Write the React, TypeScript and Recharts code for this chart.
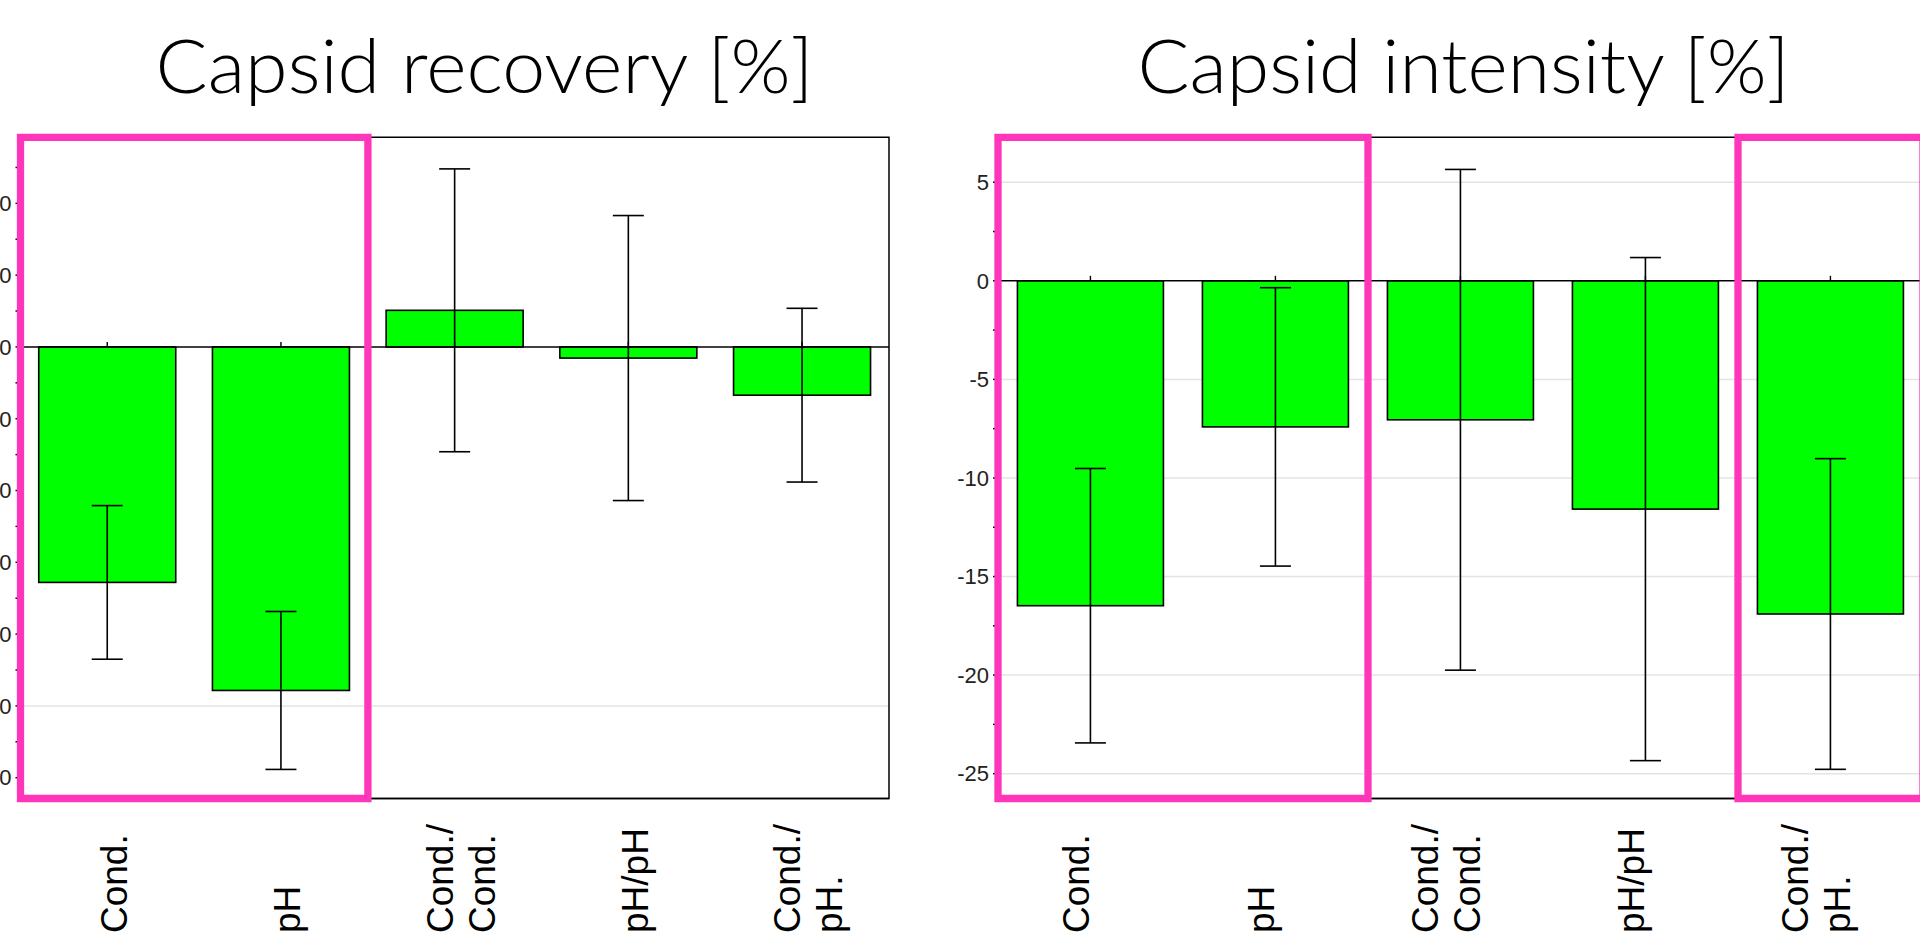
import React from 'react';
import {
  BarChart,
  Bar,
  XAxis,
  YAxis,
  CartesianGrid,
  ErrorBar,
  ReferenceLine,
  ReferenceArea,
} from 'recharts';

// ---------- data ----------
const categories = ['Cond.', 'pH', 'Cond./\nCond.', 'pH/pH', 'Cond./\npH.'];

const recoveryMean = [-32.8, -47.85, 5.1, -1.55, -6.72];
const recoveryErr = [10.7, 11.0, 19.7, 19.85, 12.1];

const intensityMean = [-16.48, -7.41, -7.05, -11.58, -16.9];
const intensityErr = [6.96, 7.06, 12.7, 12.76, 7.88];

const recoveryTicks = [25, 20, 15, 10, 5, 0, -5, -10, -15, -20, -25, -30, -35, -40, -45, -50, -55, -60];
const recoveryTickLabels = [20, 10, 0, -10, -20, -30, -40, -50, -60];
const recoveryGrid = [-50];
const recoveryDomain = [-62.9, 29.2];

const intensityTicks = [5, 2.5, 0, -2.5, -5, -7.5, -10, -12.5, -15, -17.5, -20, -22.5, -25];
const intensityTickLabels = [5, 0, -5, -10, -15, -20, -25];
const intensityGrid = [5, -5, -10, -15, -20, -25];
const intensityDomain = [-26.26, 7.28];

const recoveryHighlights = [['Cond.', 'pH']];
const intensityHighlights = [
  ['Cond.', 'pH'],
  ['Cond./\npH.', 'Cond./\npH.'],
];

const recoveryData = categories.map((c, i) => ({ name: c, value: recoveryMean[i], err: recoveryErr[i] }));
const intensityData = categories.map((c, i) => ({ name: c, value: intensityMean[i], err: intensityErr[i] }));

// ---------- styles ----------
const PINK = '#FF36B9';
const GREEN = '#00FF00';
const LABEL_FONT = 'Liberation Sans, Arial, sans-serif';

const XTick = (props: any) => {
  const { x, y, payload, shift } = props;
  const lines = String(payload.value).split('\n');
  const n = lines.length;
  const pitch = 42;
  const fontSize = 37;
  const yb = y + 134.5;
  return (
    <g>
      {lines.map((l: string, i: number) => {
        const bx = x + shift + (i - (n - 1) / 2) * pitch + 0.36 * fontSize;
        return (
          <text
            key={i}
            x={bx}
            y={yb}
            transform={`rotate(-90 ${bx} ${yb})`}
            textAnchor="start"
            fontFamily={LABEL_FONT}
            fontSize={fontSize}
            fill="#000"
          >
            {l}
          </text>
        );
      })}
    </g>
  );
};

const BarShape = (props: any) => {
  const { x, y, width, height } = props;
  const top = Math.min(y, y + height);
  const h = Math.abs(height);
  const zeroY = y + height;
  const cx = x + width / 2;
  return (
    <g>
      <rect x={x} y={top} width={width} height={h} fill={GREEN} stroke="#000" strokeWidth={1.6} />
      <line x1={cx} x2={cx} y1={zeroY} y2={zeroY - 5} stroke="#000" strokeWidth={1.4} />
    </g>
  );
};

type PanelProps = {
  data: any[];
  width: number;
  yAxisWidth: number;
  marginRight: number;
  domain: number[];
  ticks: number[];
  tickLabels: number[];
  grid: number[];
  highlights: string[][];
  shift: number;
};

const Panel = ({ data, width, yAxisWidth, marginRight, domain, ticks, tickLabels, grid, highlights, shift }: PanelProps) => (
  <BarChart
    width={width}
    height={946}
    data={data}
    margin={{ top: 137.3, right: marginRight, bottom: 0, left: 0 }}
    barCategoryGap="10.5%"
  >
    <CartesianGrid vertical={false} horizontalValues={grid} stroke="#e4e4e4" strokeWidth={1.5} />
    <XAxis
      dataKey="name"
      interval={0}
      tickLine={false}
      tickSize={0}
      tickMargin={0}
      height={946 - 798.5}
      axisLine={{ stroke: '#000', strokeWidth: 1.5 }}
      tick={(p: any) => <XTick {...p} shift={shift} />}
    />
    <YAxis
      type="number"
      domain={domain}
      allowDataOverflow
      ticks={ticks}
      interval={0}
      width={yAxisWidth}
      tickSize={5}
      tickMargin={4}
      tickFormatter={(v: number) => (tickLabels.includes(v) ? String(v) : '')}
      tick={{ fill: '#222', fontSize: 22, fontFamily: LABEL_FONT }}
      tickLine={{ stroke: '#000', strokeWidth: 1.5 }}
      axisLine={{ stroke: '#000', strokeWidth: 1.5 }}
    />
    <Bar dataKey="value" isAnimationActive={false} shape={<BarShape />}>
      <ErrorBar dataKey="err" width={15.5} stroke="#000" strokeWidth={1.6} direction="y" />
    </Bar>
    <ReferenceLine y={0} stroke="#000" strokeWidth={1.6} />
    <ReferenceArea
      x1={categories[0]}
      x2={categories[categories.length - 1]}
      stroke="#000"
      strokeWidth={1.5}
      fill="none"
      fillOpacity={0}
      ifOverflow="visible"
    />
    {highlights.map((h, i) => (
      <ReferenceArea
        key={i}
        x1={h[0]}
        x2={h[1]}
        stroke={PINK}
        strokeWidth={7.3}
        fill="none"
        fillOpacity={0}
        ifOverflow="visible"
        zIndex={3000}
      />
    ))}
  </BarChart>
);

export default function App() {
  return (
    <div
      style={{
        position: 'absolute',
        left: 0,
        top: 0,
        width: 1920,
        height: 946,
        overflow: 'hidden',
        background: '#fff',
      }}
    >
      <svg width={1920} height={130} style={{ position: 'absolute', left: 0, top: 0 }}>
        <text
          x={484.5}
          y={93.3}
          textAnchor="middle"
          fontFamily="Lato, sans-serif"
          fontWeight={300}
          fontSize={74}
          fill="#000"
          textLength={658}
          lengthAdjust="spacingAndGlyphs"
        >
          Capsid recovery [%]
        </text>
        <text
          x={1463.5}
          y={93.3}
          textAnchor="middle"
          fontFamily="Lato, sans-serif"
          fontWeight={300}
          fontSize={74}
          fill="#000"
          textLength={652}
          lengthAdjust="spacingAndGlyphs"
        >
          Capsid intensity [%]
        </text>
      </svg>
      <div style={{ position: 'absolute', left: -80, top: 0 }}>
        <Panel
          data={recoveryData}
          width={980}
          yAxisWidth={100.5}
          marginRight={11}
          domain={recoveryDomain}
          ticks={recoveryTicks}
          tickLabels={recoveryTickLabels}
          grid={recoveryGrid}
          highlights={recoveryHighlights}
          shift={6}
        />
      </div>
      <div style={{ position: 'absolute', left: 898, top: 0 }}>
        <Panel
          data={intensityData}
          width={1035}
          yAxisWidth={100}
          marginRight={10}
          domain={intensityDomain}
          ticks={intensityTicks}
          tickLabels={intensityTickLabels}
          grid={intensityGrid}
          highlights={intensityHighlights}
          shift={-15}
        />
      </div>
    </div>
  );
}
